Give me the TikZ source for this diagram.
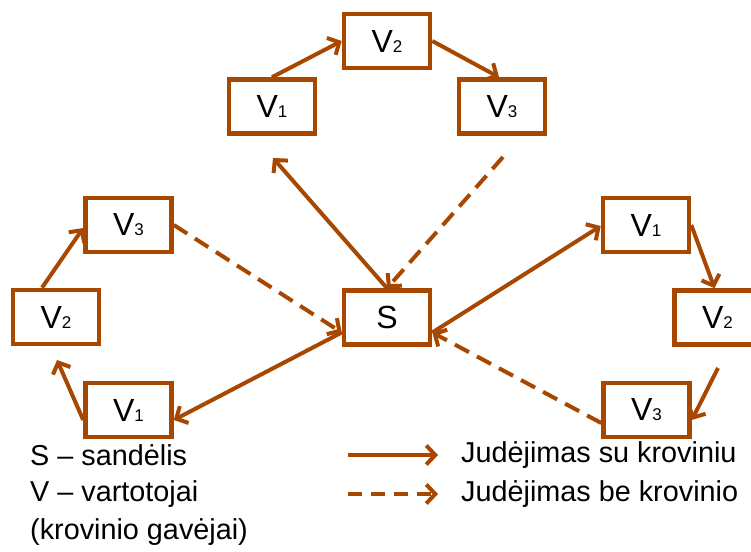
\documentclass[tikz,border=0pt]{standalone}
\usepackage{fontspec}
\setmainfont{Liberation Sans}
\usetikzlibrary{arrows.meta}
\definecolor{rust}{RGB}{168,72,0}
\newcommand{\vsub}[2]{#1{\fontsize{17}{17}\selectfont #2}}
\tikzset{
  box/.style={draw=rust, line width=4.6pt, minimum width=86pt, minimum height=54pt,
    inner sep=0pt, font=\fontsize{32}{34}\selectfont},
  flow/.style={draw=rust, line width=4pt, -{Straight Barb[length=9pt,width=19pt]}},
  loaded/.style={flow},
  empty/.style={flow, dash pattern=on 16pt off 9pt},
  legendtext/.style={anchor=west, inner sep=0pt, font=\fontsize{28.8}{30}\selectfont}
}
\begin{document}
\begin{tikzpicture}[x=1pt,y=-1pt]
\clip (0,0) rectangle (751,551);

% warehouse
\node[box] (S) at (387,317.5) {S};

% top route
\node[box] (tV1) at (272,106.5) {\vsub{V}{1}};
\node[box] (tV2) at (387,41) {\vsub{V}{2}};
\node[box] (tV3) at (502,106.5) {\vsub{V}{3}};
\coordinate (tIn) at (273,158);
\coordinate (tOut) at (503,157);

% left route
\node[box] (lV1) at (128.5,410) {\vsub{V}{1}};
\node[box] (lV2) at (56,317) {\vsub{V}{2}};
\node[box] (lV3) at (128.5,225) {\vsub{V}{3}};
\coordinate (lMid) at (57,360);

% right route
\node[box] (rV1) at (646,225) {\vsub{V}{1}};
\node[box] (rV2) at (717.5,317.5) {\vsub{V}{2}};
\node[box] (rV3) at (646.5,410) {\vsub{V}{3}};
\coordinate (rMid) at (718,368);

% top route connectors
\draw[loaded] (S.north) -- (tIn);
\draw[loaded] (tV1.north) -- (tV2.west);
\draw[loaded] (tV2.east) -- ([xshift=-3pt]tV3.north);
\draw[empty] (tOut) -- (S.north);

% left route connectors
\draw[loaded] ([yshift=-15pt]S.west) -- ([yshift=-10pt]lV1.east);
\draw[loaded] ([yshift=-10pt]lV1.west) -- (lMid);
\draw[loaded] ([xshift=-14pt]lV2.north) -- ([yshift=-3pt]lV3.west);
\draw[empty] (lV3.east) -- ([yshift=-15pt]S.west);

% right route connectors
\draw[loaded] ([yshift=-15pt]S.east) -- ([yshift=-1pt]rV1.west);
\draw[loaded] (rV1.east) -- ([xshift=-3pt]rV2.north);
\draw[loaded] (rMid) -- ([yshift=-10pt]rV3.east);
\draw[empty] ([yshift=-13pt]rV3.west) -- ([yshift=-15pt]S.east);

% legend
\node[legendtext] (leg1) at (30,455) {S – sandėlis};
\node[legendtext] (leg2) at (30,494) {V – vartotojai};
\node[legendtext] (leg3) at (30,532) {(krovinio gavėjai)};

\coordinate (sa) at (348,455);
\coordinate (sb) at (438,455);
\coordinate (da) at (348,494);
\coordinate (db) at (438,494);
\draw[loaded] (sa) -- (sb);
\draw[empty, dash pattern=on 14pt off 9pt] (da) -- (db);
\node[legendtext] (leg4) at (461,455) {Judėjimas su kroviniu};
\node[legendtext] (leg5) at (461,494) {Judėjimas be krovinio};
\end{tikzpicture}
\end{document}
